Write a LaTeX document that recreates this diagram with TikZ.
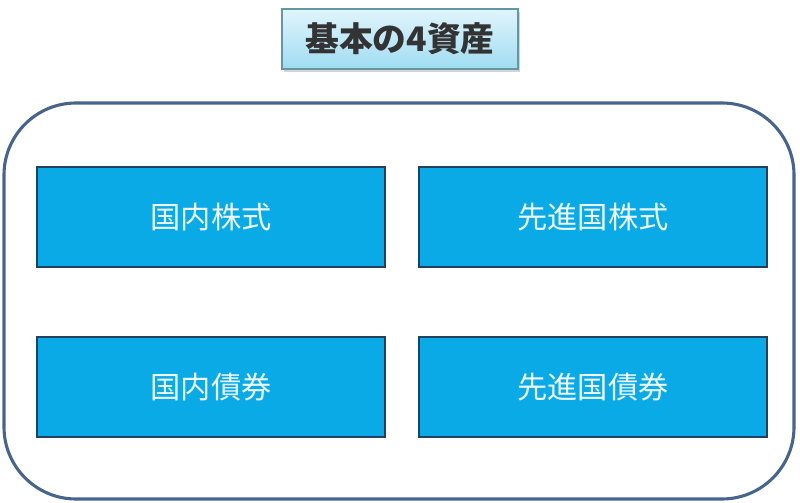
\documentclass[tikz,border=0pt]{standalone}
\usepackage{fontspec}
\usepackage{xcolor}
\setmainfont{Noto Sans CJK JP}
\usetikzlibrary{positioning,shadows}

\definecolor{assetblue}{RGB}{10,170,230}
\definecolor{assetedge}{RGB}{35,65,95}
\definecolor{frameedge}{RGB}{70,100,140}
\definecolor{titletop}{RGB}{225,245,252}
\definecolor{titlebottom}{RGB}{160,220,242}
\definecolor{titleedge}{RGB}{100,150,165}

\begin{document}
\begin{tikzpicture}[x=0.025cm, y=-0.025cm,
asset/.style={rectangle, draw=assetedge, line width=1.2pt, fill=assetblue, minimum width=8.7cm, minimum height=2.5cm, font=\fontsize{21.5}{24}\selectfont, text=white!92!cyan},
title/.style={rectangle, draw=titleedge, line width=0.8pt, top color=titletop, bottom color=titlebottom, minimum width=5.9cm, minimum height=1.5cm, font=\fontsize{24}{28}\selectfont\bfseries, text=black!80, drop shadow={shadow xshift=0.5mm, shadow yshift=-0.8mm, opacity=0.35}}
]
\useasboundingbox (0,0) rectangle (800,503);

% Outer frame
\draw[frameedge, line width=2.2pt, rounded corners=1.8cm] (4,103) rectangle (794,499);

% Heading
\node[title] (head) at (400,39) {基本の4資産};

% Domestic assets
\node[asset] (jpstock) at (211,217) {国内株式};
\node[asset] (jpbond) at (211,387) {国内債券};

% Developed-market assets
\node[asset] (dmstock) at (593,217) {先進国株式};
\node[asset] (dmbond) at (593,387) {先進国債券};

\end{tikzpicture}
\end{document}
